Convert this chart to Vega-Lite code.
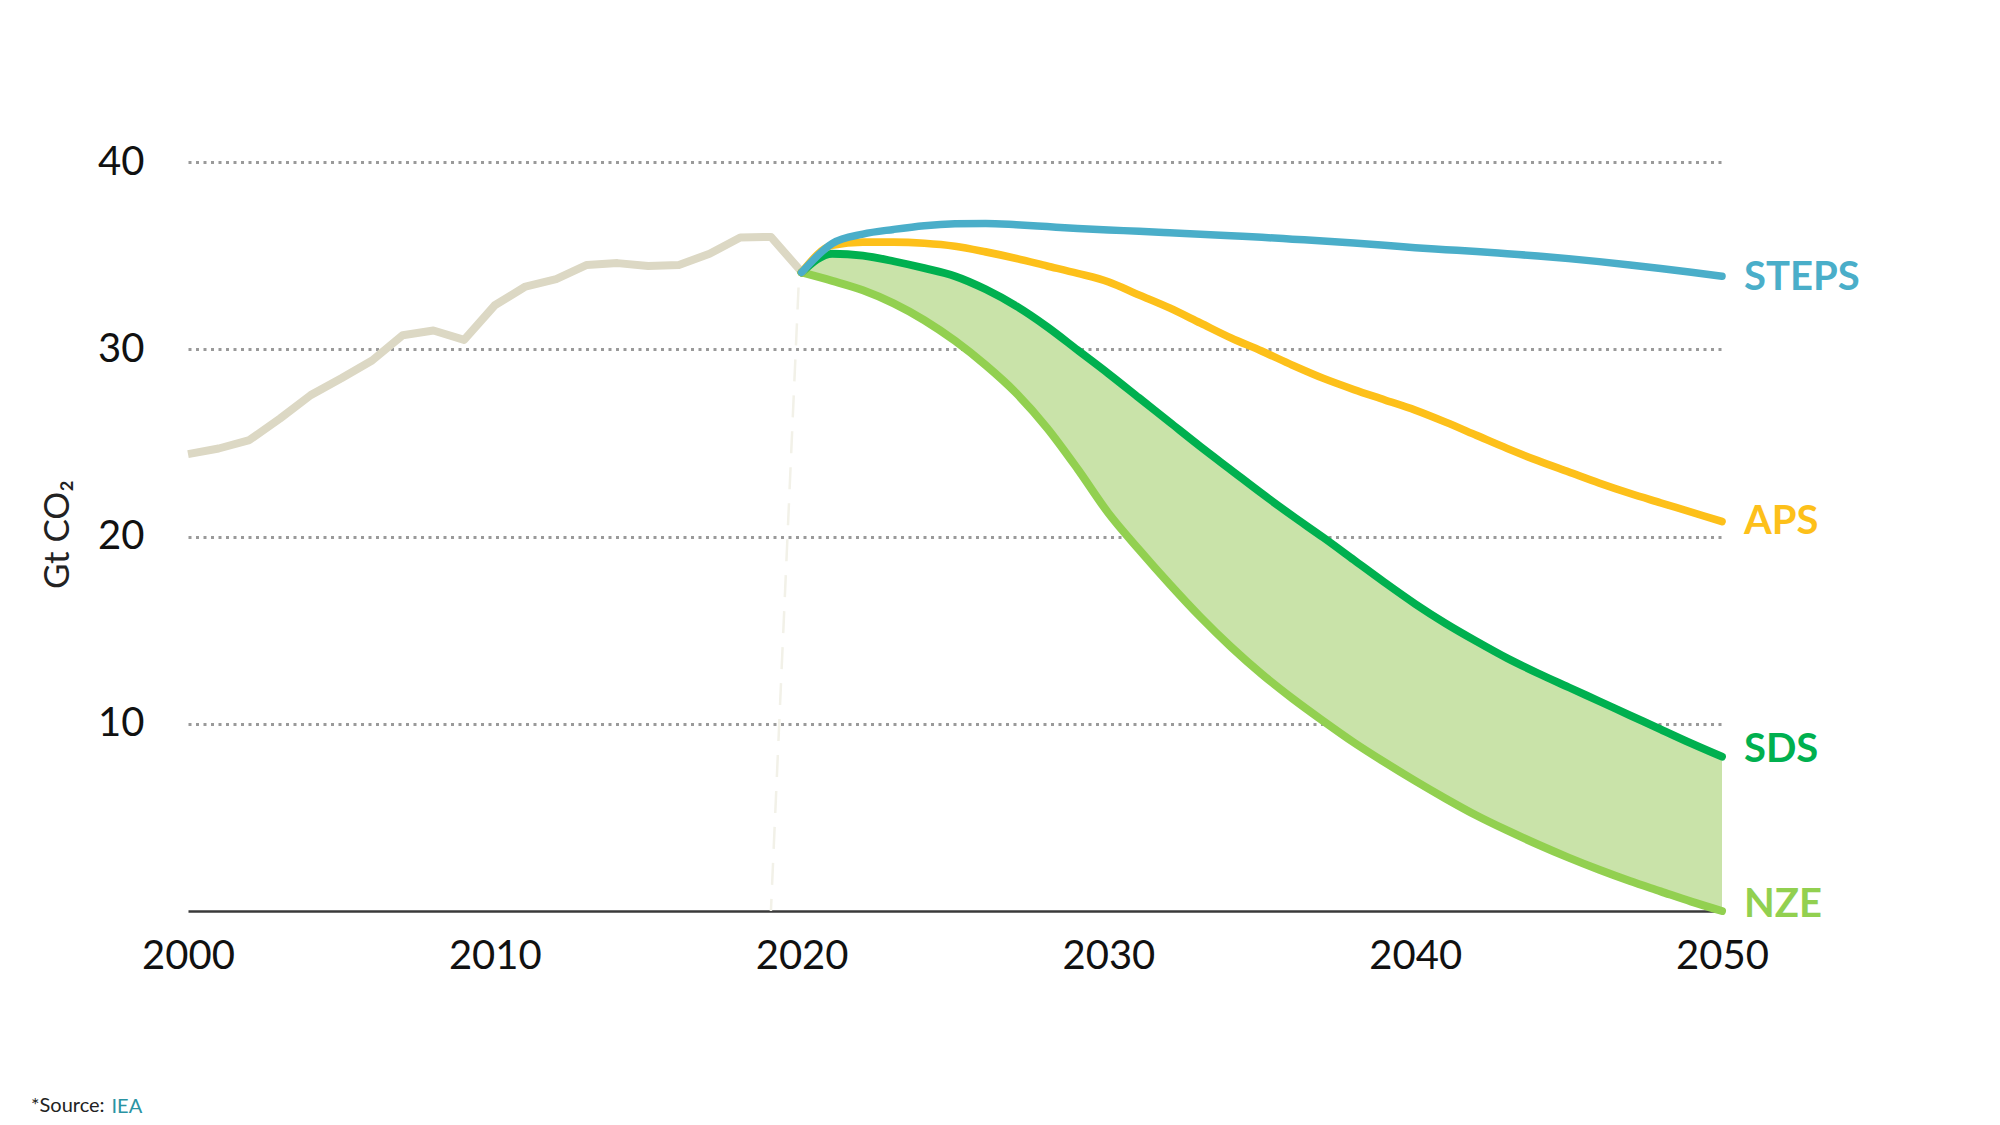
{
  "$schema": "https://vega.github.io/schema/vega-lite/v6.json",
  "width": 1534,
  "height": 749,
  "autosize": {"type": "none"},
  "padding": {"left": 188, "top": 162, "right": 278, "bottom": 214},
  "background": "white",
  "title": {
    "text": "*Source: ",
    "orient": "bottom",
    "anchor": "start",
    "frame": "group",
    "font": "Lato",
    "fontSize": 20,
    "fontWeight": "normal",
    "color": "#222222",
    "offset": -20,
    "dx": -157
  },
  "datasets": {
    "hist": [
      {"year": 2000, "value": 24.4}, {"year": 2001, "value": 24.7}, {"year": 2002, "value": 25.15},
      {"year": 2003, "value": 26.3}, {"year": 2004, "value": 27.55}, {"year": 2005, "value": 28.45},
      {"year": 2006, "value": 29.4}, {"year": 2007, "value": 30.75}, {"year": 2008, "value": 31.0},
      {"year": 2009, "value": 30.5}, {"year": 2010, "value": 32.35}, {"year": 2011, "value": 33.35},
      {"year": 2012, "value": 33.75}, {"year": 2013, "value": 34.5}, {"year": 2014, "value": 34.6},
      {"year": 2015, "value": 34.45}, {"year": 2016, "value": 34.5}, {"year": 2017, "value": 35.1},
      {"year": 2018, "value": 35.97}, {"year": 2019, "value": 36.0}, {"year": 2020, "value": 34.13}
    ],
    "proj": [
      {"year": 2020, "STEPS": 34.1, "APS": 34.1, "SDS": 34.1, "NZE": 34.1},
      {"year": 2021, "STEPS": 35.65, "APS": 35.55, "SDS": 35.1, "NZE": 33.65},
      {"year": 2022, "STEPS": 36.15, "APS": 35.72, "SDS": 35.0, "NZE": 33.15},
      {"year": 2023, "STEPS": 36.4, "APS": 35.72, "SDS": 34.7, "NZE": 32.45},
      {"year": 2024, "STEPS": 36.6, "APS": 35.66, "SDS": 34.33, "NZE": 31.55},
      {"year": 2025, "STEPS": 36.7, "APS": 35.5, "SDS": 33.9, "NZE": 30.45},
      {"year": 2026, "STEPS": 36.72, "APS": 35.2, "SDS": 33.2, "NZE": 29.15},
      {"year": 2027, "STEPS": 36.65, "APS": 34.85, "SDS": 32.3, "NZE": 27.65},
      {"year": 2028, "STEPS": 36.55, "APS": 34.45, "SDS": 31.2, "NZE": 25.8},
      {"year": 2029, "STEPS": 36.45, "APS": 34.05, "SDS": 29.95, "NZE": 23.6},
      {"year": 2030, "STEPS": 36.37, "APS": 33.6, "SDS": 28.7, "NZE": 21.25},
      {"year": 2031, "STEPS": 36.3, "APS": 32.9, "SDS": 27.4, "NZE": 19.3},
      {"year": 2032, "STEPS": 36.22, "APS": 32.2, "SDS": 26.1, "NZE": 17.45},
      {"year": 2033, "STEPS": 36.14, "APS": 31.4, "SDS": 24.8, "NZE": 15.7},
      {"year": 2034, "STEPS": 36.06, "APS": 30.6, "SDS": 23.55, "NZE": 14.1},
      {"year": 2035, "STEPS": 35.98, "APS": 29.9, "SDS": 22.3, "NZE": 12.65},
      {"year": 2036, "STEPS": 35.88, "APS": 29.15, "SDS": 21.1, "NZE": 11.35},
      {"year": 2037, "STEPS": 35.78, "APS": 28.45, "SDS": 19.95, "NZE": 10.15},
      {"year": 2038, "STEPS": 35.67, "APS": 27.85, "SDS": 18.75, "NZE": 9.0},
      {"year": 2039, "STEPS": 35.55, "APS": 27.3, "SDS": 17.55, "NZE": 7.95},
      {"year": 2040, "STEPS": 35.42, "APS": 26.75, "SDS": 16.4, "NZE": 6.95},
      {"year": 2041, "STEPS": 35.32, "APS": 26.1, "SDS": 15.35, "NZE": 6.0},
      {"year": 2042, "STEPS": 35.22, "APS": 25.4, "SDS": 14.4, "NZE": 5.1},
      {"year": 2043, "STEPS": 35.1, "APS": 24.7, "SDS": 13.5, "NZE": 4.3},
      {"year": 2044, "STEPS": 34.98, "APS": 24.05, "SDS": 12.7, "NZE": 3.55},
      {"year": 2045, "STEPS": 34.84, "APS": 23.45, "SDS": 11.95, "NZE": 2.85},
      {"year": 2046, "STEPS": 34.68, "APS": 22.85, "SDS": 11.2, "NZE": 2.2},
      {"year": 2047, "STEPS": 34.5, "APS": 22.3, "SDS": 10.45, "NZE": 1.6},
      {"year": 2048, "STEPS": 34.31, "APS": 21.8, "SDS": 9.7, "NZE": 1.05},
      {"year": 2049, "STEPS": 34.11, "APS": 21.3, "SDS": 8.95, "NZE": 0.5},
      {"year": 2050, "STEPS": 33.9, "APS": 20.8, "SDS": 8.24, "NZE": 0.0}
    ],
    "labels": [
      {"scenario": "STEPS", "year": 2050, "value": 33.8},
      {"scenario": "APS", "year": 2050, "value": 20.75},
      {"scenario": "SDS", "year": 2050, "value": 8.6},
      {"scenario": "NZE", "year": 2050, "value": 0.3}
    ],
    "marker": [
      {"year": 2019.9, "value": 33.3, "year2": 2019.0, "value2": 0}
    ]
  },
  "layer": [
    {
      "data": {"name": "marker"},
      "mark": {"type": "rule", "color": "#f2f1e8", "strokeWidth": 2.5, "strokeDash": [22, 14]},
      "encoding": {
        "x": {"field": "year", "type": "quantitative", "title": "IEA",
              "scale": {"domain": [2000, 2050], "nice": false, "zero": false},
              "axis": {"values": [2000, 2010, 2020, 2030, 2040, 2050], "format": "d"}},
        "x2": {"field": "year2"},
        "y": {"field": "value", "type": "quantitative", "title": "Gt CO₂",
              "scale": {"domain": [0, 40], "nice": false, "zero": true},
              "axis": {"values": [10, 20, 30, 40]}},
        "y2": {"field": "value2"}
      }
    },
    {
      "data": {"name": "proj"},
      "mark": {"type": "area", "color": "#c9e3a9", "opacity": 1, "interpolate": "monotone"},
      "encoding": {
        "x": {"field": "year", "type": "quantitative", "title": "IEA"},
        "y": {"field": "SDS", "type": "quantitative", "title": "Gt CO₂"},
        "y2": {"field": "NZE"}
      }
    },
    {
      "data": {"name": "hist"},
      "mark": {"type": "line", "color": "#dcd8c4", "strokeWidth": 8, "strokeJoin": "round", "strokeCap": "butt"},
      "encoding": {
        "x": {"field": "year", "type": "quantitative", "title": "IEA"},
        "y": {"field": "value", "type": "quantitative", "title": "Gt CO₂"}
      }
    },
    {
      "data": {"name": "proj"},
      "transform": [{"fold": ["NZE", "SDS", "APS", "STEPS"], "as": ["scenario", "value"]}],
      "mark": {"type": "line", "strokeJoin": "round", "strokeCap": "round", "interpolate": "monotone"},
      "encoding": {
        "x": {"field": "year", "type": "quantitative", "title": "IEA"},
        "y": {"field": "value", "type": "quantitative", "title": "Gt CO₂"},
        "color": {"field": "scenario", "type": "nominal", "legend": null,
                  "scale": {"domain": ["STEPS", "APS", "SDS", "NZE"], "range": ["#4aaec9", "#fdc01a", "#00b04f", "#92d050"]}},
        "strokeWidth": {"field": "scenario", "type": "nominal", "legend": null,
                        "scale": {"domain": ["STEPS", "APS", "SDS", "NZE"], "range": [7.5, 8, 9.5, 7.5]}}
      }
    },
    {
      "data": {"name": "labels"},
      "mark": {"type": "text", "align": "left", "baseline": "middle", "dx": 22, "dy": 0, "font": "Lato", "fontSize": 40, "fontWeight": "bold"},
      "encoding": {
        "x": {"field": "year", "type": "quantitative", "title": "IEA"},
        "y": {"field": "value", "type": "quantitative", "title": "Gt CO₂"},
        "text": {"field": "scenario"},
        "color": {"field": "scenario", "type": "nominal", "legend": null}
      }
    }
  ],
  "config": {
    "view": {"stroke": null},
    "font": "Lato",
    "axisX": {
      "domain": true, "domainColor": "#3a3a3a", "domainWidth": 2.5,
      "ticks": false, "grid": false, "labelFlush": false,
      "labelFont": "Lato", "labelFontSize": 40, "labelColor": "#111111", "labelPadding": 25,
      "titleFont": "Lato", "titleFontSize": 20, "titleFontWeight": "normal", "titleColor": "#2a93a3",
      "titleX": -77, "titleY": 195, "titleAlign": "left", "titleBaseline": "middle"
    },
    "axisY": {
      "domain": false, "ticks": false, "grid": true,
      "gridColor": "#9a9a9a", "gridDash": [3, 4.5], "gridWidth": 3,
      "labelFont": "Lato", "labelFontSize": 40, "labelColor": "#111111", "labelPadding": 44,
      "titleFont": "Lato", "titleFontSize": 35, "titleFontWeight": "normal", "titleColor": "#222222",
      "titleX": -131, "titleY": 372, "titleAngle": -90, "titleAlign": "center", "titleBaseline": "middle"
    }
  }
}
